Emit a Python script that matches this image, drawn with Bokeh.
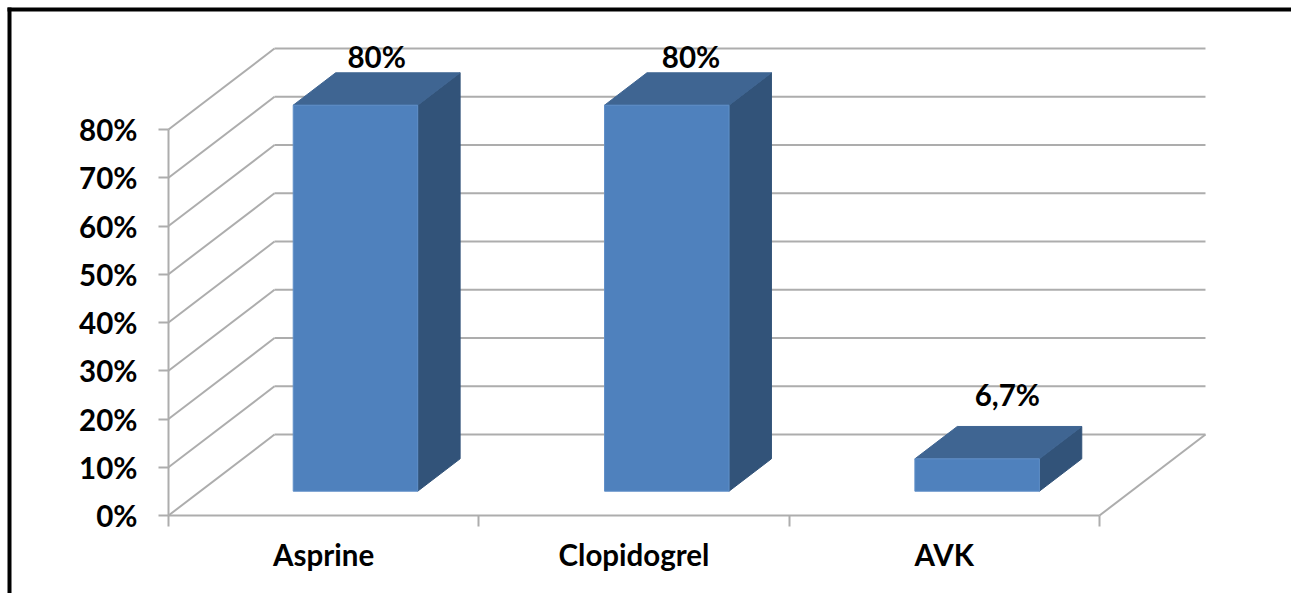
from bokeh.embed import file_html
from bokeh.resources import INLINE
from bokeh.plotting import figure
from bokeh.models import FixedTicker, LinearAxis, Range1d
from bokeh.core.properties import value

# Chart data
categories = ["Asprine", "Clopidogrel", "AVK"]
percentages = [80, 80, 6.7]
percent_ticks = [0, 10, 20, 30, 40, 50, 60, 70, 80]

# Canvas and plot geometry
WIDTH, HEIGHT = 1291, 593
ORIGIN_X, ORIGIN_Y = 168, 515
PX_PER_CATEGORY = 310.33
PX_PER_PERCENT = 4.825

# Oblique projection of the depth axis, in data units
DEPTH_X = 106 / PX_PER_CATEGORY
DEPTH_Y = 81 / PX_PER_PERCENT
BAR_WIDTH = 124.5 / PX_PER_CATEGORY
BAR_NEAR, BAR_FAR = 0.3, 0.7

# Styling
FONT = "Lato"
FONT_SIZE = "29.5px"
GRID = "#ADADAD"
FRONT, TOP, SIDE = "#4F81BD", "#3F6592", "#325379"
# Small per-bar adjustments, in pixels
BAR_DX = [0, 1, 1]
LABEL_DX = [0, 4, 10]
LABEL_LIFT = [16, 16, 32]


def fmt(v):
    return f"{v:g}".replace(".", ",") + "%"


def px_x(x):
    return (x - ORIGIN_X) / PX_PER_CATEGORY


def px_y(y):
    return (ORIGIN_Y - y) / PX_PER_PERCENT


n = len(categories)

p = figure(
    width=WIDTH, height=HEIGHT, frame_width=WIDTH, frame_height=HEIGHT,
    x_range=Range1d(px_x(0), px_x(WIDTH)),
    y_range=Range1d(px_y(HEIGHT), px_y(0)),
    x_axis_location=None, y_axis_location=None,
    output_backend="svg", toolbar_location=None,
    min_border_left=0, min_border_bottom=0, min_border_top=0, min_border_right=0,
)
p.grid.visible = False
p.outline_line_color = None
p.background_fill_color = "white"
p.border_fill_color = "white"

# Value axis on the front-left edge
y_axis = LinearAxis(
    fixed_location=0,
    ticker=FixedTicker(ticks=percent_ticks),
    major_label_overrides={t: f"{t}%" for t in percent_ticks},
    bounds=(0, max(percent_ticks)),
    axis_line_color=GRID, axis_line_width=2,
    major_tick_line_color=GRID, major_tick_line_width=2,
    major_tick_in=0, major_tick_out=10, minor_tick_line_color=None,
    major_label_standoff=21, major_label_text_font=FONT,
    major_label_text_font_style="bold", major_label_text_font_size=FONT_SIZE,
    major_label_text_color="black",
)
p.add_layout(y_axis, "left")

# Category axis: labels at slot centres, ticks between slots
centres = [i + 0.5 for i in range(n)]
x_axis = LinearAxis(
    fixed_location=0,
    ticker=FixedTicker(ticks=centres, minor_ticks=list(range(n + 1))),
    major_label_overrides={c: name for c, name in zip(centres, categories)},
    bounds=(0, n),
    axis_line_color=GRID, axis_line_width=2,
    major_tick_line_color=None, major_tick_in=0, major_tick_out=0,
    minor_tick_line_color=GRID, minor_tick_line_width=2,
    minor_tick_in=0, minor_tick_out=11,
    major_label_standoff=10, major_label_text_font=FONT,
    major_label_text_font_style="bold", major_label_text_font_size=FONT_SIZE,
    major_label_text_color="black",
)
p.add_layout(x_axis, "below")

# Side-wall and back-wall gridlines
p.segment(x0=[0] * len(percent_ticks), y0=percent_ticks,
          x1=[DEPTH_X] * len(percent_ticks), y1=[t + DEPTH_Y for t in percent_ticks],
          line_color=GRID, line_width=2)
p.segment(x0=[DEPTH_X] * len(percent_ticks), y0=[t + DEPTH_Y for t in percent_ticks],
          x1=[n + DEPTH_X] * len(percent_ticks), y1=[t + DEPTH_Y for t in percent_ticks],
          line_color=GRID, line_width=2)
# Right edge of the floor
p.line([n, n + DEPTH_X], [0, DEPTH_Y], line_color=GRID, line_width=2)

# Three visible faces of each bar
front_xs, front_ys, top_xs, top_ys, side_xs, side_ys = [], [], [], [], [], []
for c, v, nudge in zip(centres, percentages, BAR_DX):
    x0 = c - BAR_WIDTH / 2 + BAR_NEAR * DEPTH_X + nudge / PX_PER_CATEGORY
    x1 = x0 + BAR_WIDTH
    y0 = BAR_NEAR * DEPTH_Y
    y1 = y0 + v
    dx = (BAR_FAR - BAR_NEAR) * DEPTH_X
    dy = (BAR_FAR - BAR_NEAR) * DEPTH_Y
    front_xs.append([x0, x1, x1, x0])
    front_ys.append([y0, y0, y1, y1])
    top_xs.append([x0, x1, x1 + dx, x0 + dx])
    top_ys.append([y1, y1, y1 + dy, y1 + dy])
    side_xs.append([x1, x1 + dx, x1 + dx, x1])
    side_ys.append([y0, y0 + dy, y1 + dy, y1])

p.patches(side_xs, side_ys, fill_color=SIDE, line_color=SIDE, line_width=1)
p.patches(top_xs, top_ys, fill_color=TOP, line_color=TOP, line_width=1)
p.patches(front_xs, front_ys, fill_color=FRONT, line_color="#5F8FC8", line_width=1)

# Value labels above each bar
label_x = [c + (BAR_NEAR + BAR_FAR) / 2 * DEPTH_X for c in centres]
label_y = [v + BAR_FAR * DEPTH_Y for v in percentages]
p.text(label_x, label_y, text=[fmt(v) for v in percentages],
       x_offset=LABEL_DX, y_offset=[-l for l in LABEL_LIFT],
       text_font=value(FONT), text_font_style="bold", text_font_size=FONT_SIZE,
       text_color="black", text_align="center", text_baseline="middle")

# Black frame along the top and left of the canvas
p.quad(left=[px_x(7), px_x(7)], right=[px_x(WIDTH), px_x(11)],
       top=[px_y(7), px_y(7)], bottom=[px_y(11), px_y(HEIGHT)],
       fill_color="black", line_color=None)

open("out.html", "w").write(file_html(p, INLINE))
